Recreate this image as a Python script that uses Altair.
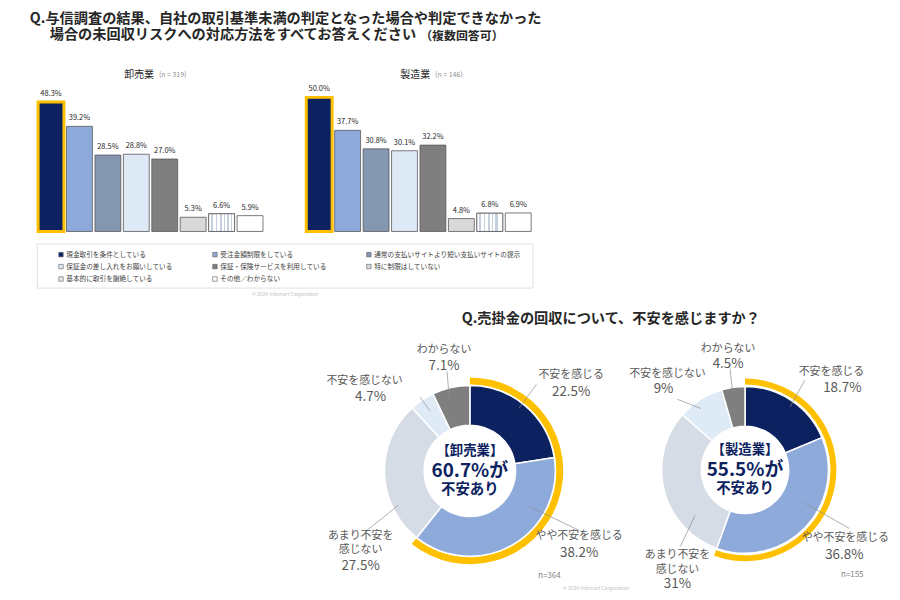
import math
import altair as alt
import pandas as pd

M = 8  # page margin: layout positions below are given in page pixels

# ---------------- data ----------------
items = ["現金取引を条件としている", "受注金額制限をしている", "通常の支払いサイトより短い支払いサイトの提示",
         "保証金の差し入れをお願いしている", "保証・保険サービスを利用している", "特に制限はしていない",
         "基本的に取引を謝絶している", "その他／わからない"]
wholesale_pct = [48.3, 39.2, 28.5, 28.8, 27.0, 5.3, 6.6, 5.9]
manufacturing_pct = [50.0, 37.7, 30.8, 30.1, 32.2, 4.8, 6.8, 6.9]
panel_names = ["卸売業", "製造業"]
panel_n = [319, 146]

answers = ["不安を感じる", "やや不安を感じる", "あまり不安を感じない", "不安を感じない", "わからない"]
answer_lines = [["不安を感じる"], ["やや不安を感じる"], ["あまり不安を", "感じない"], ["不安を感じない"], ["わからない"]]
wholesale_anx = [22.5, 38.2, 27.5, 4.7, 7.1]
manufacturing_anx = [18.7, 36.8, 31.0, 9.0, 4.5]
donut_n = [364, 155]

title1 = "Q.与信調査の結果、自社の取引基準未満の判定となった場合や判定できなかった"
title2 = "場合の未回収リスクへの対応方法をすべてお答えください"
title2_small = "（複数回答可）"
title3 = "Q.売掛金の回収について、不安を感じますか？"
copyright = "© 2024 Infomart Corporation"

# ---------------- styles ----------------
NAVY = "#0c2260"
YELLOW = "#ffc000"
bar_colors = ["#0c2260", "#8eaadb", "#8497b0", "#dee9f6", "#7f7f7f", "#d9d9d9", "#e3e8f0", "#ffffff"]
pie_colors = ["#0c2260", "#8eaadb", "#d6dce5", "#deebf7", "#7f7f7f"]
FONT = "Noto Sans CJK JP"


def texts(rows, **kw):
    df = pd.DataFrame(rows, columns=["text", "x", "y"])
    df["x"] = df["x"] - M
    df["y"] = df["y"] - M
    return alt.Chart(df).mark_text(**kw).encode(
        x=alt.X("x:Q", scale=None, axis=None),
        y=alt.Y("y:Q", scale=None, axis=None),
        text="text:N",
    )


# stripe pattern for one bar
stripe_stops = [{"offset": 0, "color": "#ffffff"}]
for a, b in [(0.10, 0.16), (0.28, 0.31), (0.42, 0.50), (0.60, 0.63), (0.72, 0.80), (0.88, 0.91)]:
    stripe_stops += [{"offset": a, "color": "#ffffff"}, {"offset": a, "color": "#c5cfde"},
                     {"offset": b, "color": "#c5cfde"}, {"offset": b, "color": "#ffffff"}]
stripe_stops.append({"offset": 1, "color": "#ffffff"})
stripe_fill = {"gradient": "linear", "x1": 0, "x2": 1, "y1": 0, "y2": 0, "stops": stripe_stops}


def bar_panel(values, xr, show_legend):
    df = pd.DataFrame({"item": items, "val": values, "idx": list(range(len(items)))})
    df["label"] = [f"{v:.1f}%" for v in values]
    x = alt.X("item:N", sort=items, axis=None,
              scale=alt.Scale(domain=items, range=[xr[0] - M, xr[1] - M], paddingInner=0.09, paddingOuter=0.045))
    y = alt.Y("val:Q", axis=None, scale=alt.Scale(domain=[0, 50], range=[231 - M, 96 - M]))
    if show_legend:
        legend = alt.Legend(orient="none", legendX=58 - M, legendY=250.5 - M, columns=3, title=None,
                            direction="horizontal", gridAlign="each", columnPadding=38, rowPadding=3.5,
                            labelFontSize=6.7, labelColor="#404040", labelOffset=2, labelLimit=300,
                            symbolType="square", symbolSize=20, symbolStrokeColor="#595959",
                            symbolStrokeWidth=0.6, symbolOpacity=1, padding=0, labelFont=FONT)
    else:
        legend = None
    color = alt.Color("item:N", scale=alt.Scale(domain=items, range=bar_colors), legend=legend)
    bars = alt.Chart(df).mark_bar(stroke="#595959", strokeWidth=0.8).encode(x=x, y=y, color=color)
    stripe = alt.Chart(df).transform_filter(alt.datum.idx == 6).mark_bar(
        fill=stripe_fill, stroke="#595959", strokeWidth=0.8).encode(x=x, y=y)
    hl = alt.Chart(df).transform_filter(alt.datum.idx == 0).mark_bar(
        filled=False, stroke=YELLOW, strokeWidth=3).encode(x=x, y=y)
    labels = alt.Chart(df).mark_text(baseline="bottom", dy=-4, fontSize=7.5, color="#262626").encode(
        x=x, y=y, text="label:N")
    return [bars, stripe, hl, labels]


def donut(values, cx, cy, r_out, r_in, ring_in, ring_out, name_pos, value_pos, leaders, center, n, n_pos):
    layers = []
    df = pd.DataFrame({"ans": answers, "val": values, "idx": list(range(len(values))), "col": pie_colors})
    anx = round(values[0] + values[1], 1)
    ring = pd.DataFrame({"val": [anx, round(100 - anx, 1)], "idx": [0, 1], "col": [YELLOW, "rgba(0,0,0,0)"]})
    layers.append(alt.Chart(ring).mark_arc(innerRadius=ring_in, outerRadius=ring_out).encode(
        theta=alt.Theta("val:Q", stack=True), order=alt.Order("idx:Q"),
        color=alt.Color("col:N", scale=None), x=alt.value(cx - M), y=alt.value(cy - M)))
    layers.append(alt.Chart(df).mark_arc(innerRadius=r_in, outerRadius=r_out, stroke="white", strokeWidth=1.5).encode(
        theta=alt.Theta("val:Q", stack=True), order=alt.Order("idx:Q"),
        color=alt.Color("col:N", scale=None), x=alt.value(cx - M), y=alt.value(cy - M)))
    # leader lines: inner end computed from the data (angle inside the segment)
    rows = []
    for i, frac, r, ex, ey in leaders:
        pct = sum(values[:i]) + frac * values[i]
        ang = 2 * math.pi * pct / 100
        rows.append({"sx": cx + r * math.sin(ang) - M, "sy": cy - r * math.cos(ang) - M,
                     "ex": ex - M, "ey": ey - M})
    ldf = pd.DataFrame(rows)
    layers.append(alt.Chart(ldf).mark_rule(color="#8c8c8c", strokeWidth=0.7).encode(
        x=alt.X("sx:Q", scale=None, axis=None), y=alt.Y("sy:Q", scale=None, axis=None),
        x2="ex:Q", y2="ey:Q"))
    name_rows, value_rows = [], []
    for i in range(len(values)):
        for line, (px, py) in zip(answer_lines[i], name_pos[i]):
            name_rows.append((line, px, py))
        value_rows.append((f"{values[i]:g}%", value_pos[i][0], value_pos[i][1]))
    layers.append(texts(name_rows, fontSize=11, color="#595959", baseline="middle", align="center"))
    layers.append(texts(value_rows, fontSize=13.5, color="#595959", baseline="middle", align="center"))
    layers.append(texts([(f"【{center}】", cx, cy - 19.5)], fontSize=13.5, fontWeight="bold", color=NAVY, baseline="middle"))
    layers.append(texts([(f"{anx:g}%が", cx, cy + 0.5)], fontSize=19, fontWeight="bold", color=NAVY, baseline="middle"))
    layers.append(texts([("不安あり", cx, cy + 19.5)], fontSize=14.5, fontWeight="bold", color=NAVY, baseline="middle"))
    layers.append(texts([(f"n={n}", n_pos[0], n_pos[1])], fontSize=8, color="#7f7f7f", baseline="middle"))
    return layers


layers = []

# titles
layers.append(texts([(title1, 30, 17)], fontSize=14.3, fontWeight="bold", color="#262626", align="left", baseline="middle"))
layers.append(texts([(title2, 50, 33.5)], fontSize=14.3, fontWeight="bold", color="#262626", align="left", baseline="middle"))
layers.append(texts([(title2_small, 423, 34.5)], fontSize=12, fontWeight="bold", color="#262626", align="left", baseline="middle"))

# legend box
box = pd.DataFrame({"k": [0]})
layers.append(alt.Chart(box).mark_rect(fill="white", stroke="#d9d9d9", strokeWidth=0.8).encode(
    x=alt.value(37.5 - M), x2=alt.value(536.5 - M), y=alt.value(243.5 - M), y2=alt.value(288 - M)))

# bar panels
layers += bar_panel(wholesale_pct, (37, 266), True)
layers += bar_panel(manufacturing_pct, (307, 536), False)
layers.append(texts([(panel_names[0], 140, 73), (panel_names[1], 418, 73)], fontSize=10, color="#262626", baseline="middle"))
layers.append(texts([(f"(n = {panel_n[0]})", 160, 73.5), (f"(n = {panel_n[1]})", 438, 73.5)],
                    fontSize=7, color="#8c8c8c", align="left", baseline="middle"))
layers.append(texts([(copyright, 287, 294), (copyright, 600, 590)], fontSize=5, color="#bfbfbf", baseline="middle"))

# donuts
layers.append(texts([(title3, 615, 319)], fontSize=14.3, fontWeight="bold", color="#262626", baseline="middle"))
layers += donut(
    wholesale_anx, 473, 472, 86, 46, 87, 94,
    name_pos=[[(575, 376)], [(583, 538)], [(363, 538), (363, 552)], [(367, 382)], [(447, 350)]],
    value_pos=[(575, 393), (583, 555), (363, 568), (373, 398), (447, 366)],
    leaders=[(0, 0.47, 80, 540, 385), (1, 0.29, 70, 583, 532), (2, 0.26, 80, 368, 533),
             (3, 0.53, 72, 423, 398), (4, 0.38, 76, 450, 372)],
    center=panel_names[0], n=donut_n[0], n_pos=(553, 578))
layers += donut(
    manufacturing_anx, 750, 471, 84, 44, 86, 92,
    name_pos=[[(837, 373)], [(851, 540)], [(682, 557), (682, 572)], [(672, 375)], [(733, 349)]],
    value_pos=[(848, 389), (850, 557), (682, 586), (668, 390), (733, 364)],
    leaders=[(0, 0.53, 78, 810, 381), (1, 0.39, 69, 855, 530), (2, 0.25, 68, 685, 548),
             (3, 0.40, 76, 682, 400), (4, 0.44, 80, 735, 369)],
    center=panel_names[1], n=donut_n[1], n_pos=(858, 577))

chart = alt.layer(*layers).resolve_scale(
    x="independent", y="independent", color="independent", theta="independent"
).properties(
    width=890, height=584, padding=0, autosize=alt.AutoSizeParams(type="none")
).configure(font=FONT).configure_view(stroke=None)

chart.save("out.html", embed_options={"renderer": "svg", "actions": False})
